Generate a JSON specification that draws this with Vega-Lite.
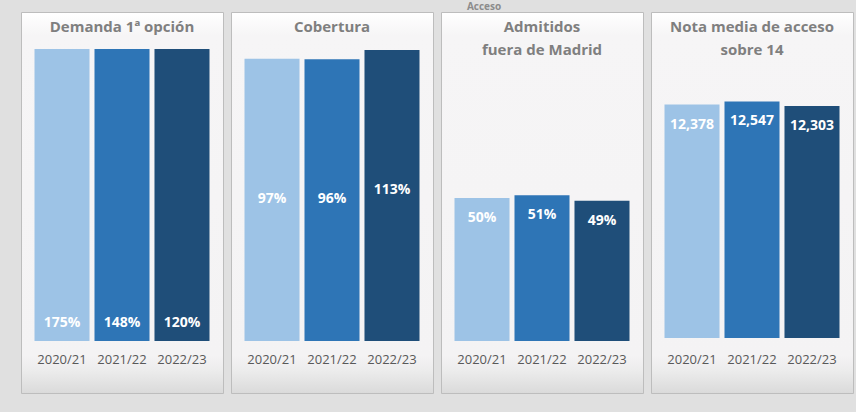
{
  "$schema": "https://vega.github.io/schema/vega-lite/v6.json",
  "background": "#e0e0e0",
  "padding": {"left": 20, "top": 1, "right": 9, "bottom": 19},
  "title": {"text": "Acceso", "fontSize": 10, "fontWeight": "bold", "color": "#8c8c8c", "font": "Open Sans", "anchor": "middle", "dx": 47, "offset": 0},
  "datasets": {
    "demanda": [
      {"curso": "2020/21", "valor": 1.75},
      {"curso": "2021/22", "valor": 1.48},
      {"curso": "2022/23", "valor": 1.20}
    ],
    "cobertura": [
      {"curso": "2020/21", "valor": 0.97},
      {"curso": "2021/22", "valor": 0.96},
      {"curso": "2022/23", "valor": 1.13}
    ],
    "admitidos": [
      {"curso": "2020/21", "valor": 0.50},
      {"curso": "2021/22", "valor": 0.51},
      {"curso": "2022/23", "valor": 0.49}
    ],
    "nota": [
      {"curso": "2020/21", "valor": 12.378},
      {"curso": "2021/22", "valor": 12.547},
      {"curso": "2022/23", "valor": 12.303}
    ]
  },
  "spacing": 6,
  "hconcat": [
    {
      "width": 202, "height": 381,
      "data": {"name": "demanda"},
      "title": {"text": "Demanda 1ª opción", "offset": -23},
      "encoding": {
        "x": {"field": "curso", "type": "nominal", "sort": null},
        "y": {"field": "valor", "type": "quantitative", "scale": {"domain": [0, 1], "range": [329, 37], "clamp": true, "nice": false}, "axis": null}
      },
      "layer": [
        {"mark": {"type": "bar"}, "encoding": {"color": {"field": "curso", "type": "nominal", "legend": null}}},
        {"mark": {"type": "text", "baseline": "middle", "dy": -18, "color": "white", "fontWeight": "bold", "fontSize": 14, "font": "Open Sans"},
         "encoding": {"y": {"datum": 0}, "text": {"field": "valor", "type": "quantitative", "format": ".0%"}}}
      ]
    },
    {
      "width": 202, "height": 381,
      "data": {"name": "cobertura"},
      "title": {"text": "Cobertura", "offset": -23},
      "encoding": {
        "x": {"field": "curso", "type": "nominal", "sort": null},
        "y": {"field": "valor", "type": "quantitative", "scale": {"type": "pow", "exponent": 0.2, "domain": [0, 1.13], "range": [329, 38], "nice": false}, "axis": null}
      },
      "layer": [
        {"mark": {"type": "bar"}, "encoding": {"color": {"field": "curso", "type": "nominal", "legend": null}}},
        {"mark": {"type": "text", "baseline": "middle", "dy": 140, "color": "white", "fontWeight": "bold", "fontSize": 14, "font": "Open Sans"},
         "encoding": {"text": {"field": "valor", "type": "quantitative", "format": ".0%"}}}
      ]
    },
    {
      "width": 202, "height": 381,
      "data": {"name": "admitidos"},
      "title": {"text": ["Admitidos", "fuera de Madrid"], "offset": -46},
      "encoding": {
        "x": {"field": "curso", "type": "nominal", "sort": null},
        "y": {"field": "valor", "type": "quantitative", "scale": {"domain": [0, 1], "range": [329, 43], "nice": false}, "axis": null}
      },
      "layer": [
        {"mark": {"type": "bar"}, "encoding": {"color": {"field": "curso", "type": "nominal", "legend": null}}},
        {"mark": {"type": "text", "baseline": "middle", "dy": 20, "color": "white", "fontWeight": "bold", "fontSize": 14, "font": "Open Sans"},
         "encoding": {"text": {"field": "valor", "type": "quantitative", "format": ".0%"}}}
      ]
    },
    {
      "width": 202, "height": 381,
      "data": {"name": "nota"},
      "title": {"text": ["Nota media de acceso", "sobre 14"], "offset": -46},
      "encoding": {
        "x": {"field": "curso", "type": "nominal", "sort": null},
        "y": {"field": "valor", "type": "quantitative", "scale": {"domain": [0, 14], "range": [326, 62], "nice": false}, "axis": null}
      },
      "layer": [
        {"mark": {"type": "bar"}, "encoding": {"color": {"field": "curso", "type": "nominal", "legend": null}}},
        {"mark": {"type": "text", "baseline": "middle", "dy": 20, "color": "white", "fontWeight": "bold", "fontSize": 14, "font": "Open Sans"},
         "encoding": {"text": {"field": "valor", "type": "quantitative", "format": ".3f"}}}
      ]
    }
  ],
  "config": {
    "locale": {"number": {"decimal": ",", "thousands": ".", "grouping": [3], "currency": ["", " €"]}},
    "font": "Open Sans",
    "view": {
      "fill": {"gradient": "linear", "x1": 0, "y1": 0, "x2": 0, "y2": 1, "stops": [
        {"offset": 0, "color": "#ffffff"},
        {"offset": 0.06, "color": "#f6f5f6"},
        {"offset": 0.9, "color": "#f4f3f4"},
        {"offset": 0.94, "color": "#ececec"},
        {"offset": 1, "color": "#dadada"}
      ]},
      "stroke": "#bdbdbd", "strokeWidth": 1
    },
    "scale": {"bandPaddingInner": 0.083, "bandPaddingOuter": 0.225},
    "range": {"category": ["#9dc3e6", "#2e75b6", "#1f4e79"]},
    "title": {"fontSize": 15, "fontWeight": "bold", "color": "#7f7f7f", "font": "Open Sans", "lineHeight": 23, "anchor": "middle"},
    "axisX": {"title": null, "domain": false, "ticks": false, "offset": -40, "labelPadding": 0, "labelFontSize": 13, "labelColor": "#595959", "labelFont": "Open Sans", "labelAngle": 0, "grid": false}
  }
}
